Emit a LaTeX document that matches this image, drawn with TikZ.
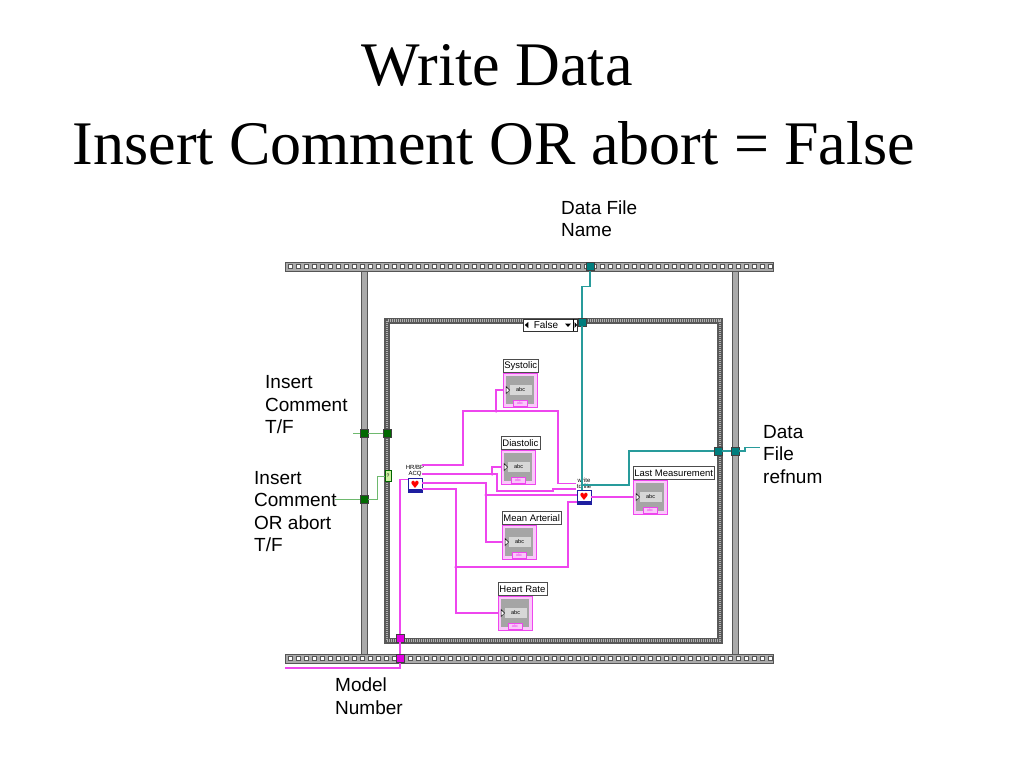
\documentclass[tikz,border=0pt]{standalone}
\usepackage{fontspec}
\setmainfont{Liberation Serif}
\setsansfont{Liberation Sans}
\newfontfamily\heartfont{DejaVu Sans}
\usetikzlibrary{calc, positioning}

\definecolor{wirepink}{RGB}{238,70,238}
\definecolor{lightpink}{RGB}{250,200,250}
\definecolor{wireteal}{RGB}{40,155,155}
\definecolor{tunteal}{RGB}{0,125,125}
\definecolor{wiregreen}{RGB}{110,185,110}
\definecolor{tungreen}{RGB}{0,105,0}
\definecolor{selgreen}{RGB}{205,240,160}
\definecolor{tunpink}{RGB}{225,0,225}
\definecolor{railgray}{RGB}{170,170,170}
\definecolor{framedark}{RGB}{85,85,85}
\definecolor{indgray}{RGB}{165,165,165}
\definecolor{abcgray}{RGB}{215,215,215}
\definecolor{viblue}{RGB}{30,30,160}

\tikzset{
  title/.style={font=\fontsize{62}{62}\selectfont, inner sep=0},
  side/.style={font=\sffamily\fontsize{19}{22.5}\selectfont, align=left, inner sep=0, anchor=west},
  rail/.style={draw=framedark, fill=railgray, line width=0.6},
  railhole/.style={draw=framedark, fill=white, line width=0.4},
  vbar/.style={draw=framedark, fill=railgray, line width=0.6},
  tunnel/.style={draw=black!75, fill=#1, line width=0.5, minimum size=8, inner sep=0},
  selbox/.style={draw=black!80, fill=white, line width=0.5, minimum width=54, minimum height=12, inner sep=0},
  seltext/.style={font=\sffamily\fontsize{10}{10}\selectfont, inner sep=0},
  selterm/.style={draw=green!40!black, fill=selgreen, line width=0.5, minimum width=6, minimum height=11, inner sep=0, font=\sffamily\fontsize{5}{5}\selectfont},
  pinkw/.style={draw=wirepink, line width=1.3},
  tealw/.style={draw=wireteal, line width=1.3},
  greenw/.style={draw=wiregreen, line width=0.8},
  dot/.style={fill=wirepink, circle, inner sep=0, minimum size=3.5},
  vi/.style={draw=viblue, fill=white, line width=0.9, minimum size=14, inner sep=0, font=\heartfont\fontsize{10}{10}\selectfont, text=red},
  vilabel/.style={font=\sffamily\fontsize{6}{6}\selectfont, align=center, inner sep=0.3},
  indbody/.style={draw=wirepink, fill=lightpink, line width=0.8, minimum size=34, inner sep=0},
  indlabel/.style={draw=black!70, fill=white, line width=0.6, font=\sffamily\fontsize{9.5}{9.5}\selectfont, inner sep=1.5, minimum height=13},
  abcbox/.style={fill=abcgray, font=\sffamily\fontsize{5.5}{5.5}\selectfont, minimum width=22, minimum height=10, inner sep=0},
  tagbox/.style={draw=wirepink, fill=lightpink, text=wirepink, font=\sffamily\fontsize{4}{4}\selectfont, minimum width=14, minimum height=5.5, inner sep=0},
}

\begin{document}
\begin{tikzpicture}[x=1pt, y=-1pt]
\useasboundingbox (0,0) rectangle (1024,768);

\node[title] (head) at (497,65) {Write Data};
\node[title] (sub) at (494,143) {Insert Comment OR abort = False};

% sequence frame
\draw[vbar] (361,271) rectangle (367,654);
\draw[vbar] (732,271) rectangle (738,654);
\draw[rail] (285,262) rectangle (773,271);
\draw[rail] (285,654) rectangle (773,663);
\foreach \i in {0,...,60} {
  \draw[railhole] ({288+8*\i},264.5) rectangle ++(4,4);
  \draw[railhole] ({288+8*\i},656.5) rectangle ++(4,4);
}

% case structure
\draw[draw=black!65, line width=6] (387,320.5) rectangle (720,640.5);
\draw[draw=gray!60, line width=2.5, dash pattern=on 1pt off 1pt] (387,320.5) rectangle (720,640.5);
\node[selbox] (csel) at (550,325) {};
\node[seltext] at (546,325) {False};
\fill ($(csel.west)+(2,0)$) -- ++(3.5,-3) -- ++(0,6) -- cycle;
\fill (565,323.5) -- ++(6,0) -- ++(-3,3.5) -- cycle;
\draw[line width=0.4] (573.5,319) -- (573.5,331);
\fill (574.5,322) -- ++(0,6) -- ++(2.5,-3) -- cycle;

% tunnels
\node[tunnel=tunteal] (ttop) at (590,266.5) {};
\node[tunnel=tunteal] (tcase) at (582,322) {};
\node[tunnel=tunteal] (trin) at (718,451) {};
\node[tunnel=tunteal] (trout) at (735,451) {};
\node[tunnel=tungreen] (go1) at (364,433) {};
\node[tunnel=tungreen] (gi1) at (387,433) {};
\node[tunnel=tungreen] (go2) at (364,499) {};
\node[tunnel=tunpink] (ptA) at (400,638) {};
\node[tunnel=tunpink] (ptB) at (400,658.5) {};
\node[selterm] (sel) at (388,476) {?};

% subVIs
\node[vi] (hr) at (415,485) {♥};
\node[vilabel, above=0.5pt of hr] (hrl) {HR/BP\\ACQ};
\fill[viblue] (hr.south west) rectangle ($(hr.south east)+(0,-3)$);
\node[vi] (wtf) at (584,497) {♥};
\node[vilabel, above=0.5pt of wtf] (wtfl) {write\\to file};
\fill[viblue] (wtf.south west) rectangle ($(wtf.south east)+(0,-3)$);

% string indicators
\foreach \nm/\txt/\px/\py in {sys/Systolic/520/390, dia/Diastolic/518/467, mean/Mean Arterial/519/542, hrate/Heart Rate/515/613, last/Last Measurement/650/497} {
  \node[indbody] (\nm) at (\px,\py) {};
  \fill[indgray] ($(\nm.north west)+(3,3)$) rectangle ($(\nm.south east)+(-3,-3)$);
  \node[abcbox] at ($(\nm.west)+(18,0)$) {abc};
  \draw[fill=white, line width=0.5] ($(\nm.west)+(3.5,-3.5)$) -- ++(3.5,3.5) -- ++(-3.5,3.5) -- cycle;
  \node[tagbox] at ($(\nm.south)+(0,-4)$) {abc};
  \node[indlabel, anchor=south west] at (\nm.north west) {\txt};
}

% labels
\node[side] (dfn) at (561,218.5) {Data File\\Name};
\node[side] (ict) at (265,405) {Insert\\Comment\\T/F};
\node[side] (ica) at (254,511.5) {Insert\\Comment\\OR abort\\T/F};
\node[side] (dfr) at (763,454.5) {Data\\File\\refnum};
\node[side] (mnum) at (335,696) {Model\\Number};

% green wires
\coordinate (ic0) at (353,433);
\coordinate (ia0) at (335,499);
\draw[greenw] (ic0) -- (go1);
\draw[greenw] (go1) -- (gi1);
\draw[greenw] (ia0) -- (go2);
\draw[greenw] (go2) -- (377,499) |- (sel);

% teal wires
\coordinate (rfo) at (582,485);
\coordinate (rfj) at (629,451);
\draw[tealw] (ttop) -- ++(0,20) -| (tcase);
\draw[tealw] (tcase) -- (tcase |- wtf.north);
\draw[tealw] (rfo) -| (rfj) -- (trin);
\draw[tealw] (trin) -- (trout);
\draw[tealw] (trout) -- ++(10,0) |- ($(dfr.west)+(-3,-7)$);

% pink wires
\coordinate (mn0) at (285,668);
\draw[pinkw] (mn0) -| (ptB);
\draw[pinkw] (ptB) -- (ptA);
\draw[pinkw] (ptA) |- ($(hr.north west)+(0,2)$);
\coordinate (o1) at (422,465);
\coordinate (o2) at (422,474);
\coordinate (o3) at (422,483);
\coordinate (o4) at (422,489);
\coordinate (jsys) at (496,411);
\coordinate (jdia) at (492,474);
\coordinate (jma) at (486,495);
\coordinate (jhr) at (456,567);
\coordinate (hrin) at ($(wtf.west)+(0,5)$);
\draw[pinkw] (o1) -- (463,465) -- (463,411) -- (558,411) |- (wtfl.west);
\draw[pinkw] (jsys) |- (sys.west);
\draw[pinkw] (o2) -- (jdia) |- (dia.west);
\draw[pinkw] (jdia) -- ++(5,0) |- (553,491) |- (wtfl.south west);
\draw[pinkw] (o3) -| (jma) |- (mean.west);
\draw[pinkw] (jma) -- (jma -| wtf.west);
\draw[pinkw] (o4) -| (jhr) |- (hrate.west);
\draw[pinkw] (jhr) -| ($(hrin)+(-8.5,0)$) -- (hrin);
\draw[pinkw] (wtf) -- (last.west);
\foreach \j in {jsys, jdia, jma, jhr}
  \node[dot] at (\j) {};
\end{tikzpicture}
\end{document}
